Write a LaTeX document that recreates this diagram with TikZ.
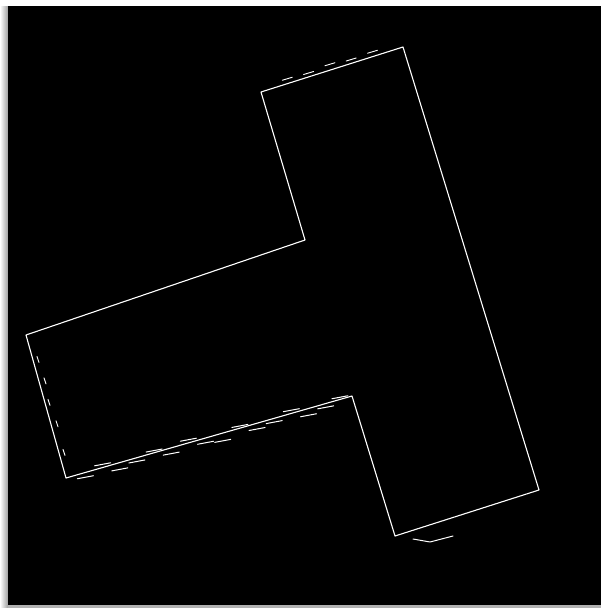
\documentclass[tikz,border=0pt]{standalone}
\usetikzlibrary{calc}
\begin{document}
\begin{tikzpicture}[x=1pt, y=-1pt, line join=round, line cap=round]
	\useasboundingbox (0,0) rectangle (601,608);
	\fill[white] (0,0) rectangle (601,608);
	\shade[left color=white, right color=gray!75] (0,6) rectangle (8,608);
	\fill[black] (8,6) rectangle (601,605);
	\fill[gray!60] (8,605) rectangle (601,608);
	\path
	(261,92) coordinate (A)
	(403,47) coordinate (B)
	(539,490) coordinate (C)
	(395,536) coordinate (D)
	(352,396) coordinate (E)
	(66,478) coordinate (F)
	(26,335) coordinate (G)
	(305,240) coordinate (H)
	(413,539) coordinate (S1)
	(430,542) coordinate (S2)
	(453,536) coordinate (S3)
	;
	% outline
	\draw[white, line width=1.1pt] (A)--(B)--(C)--(D)--(E)--(F)--(G)--(H)--cycle;
	\draw[white, line width=1pt] (S1)--(S2)--(S3);
	% doubled edges
	\foreach \t/\o in {0.04/4,0.1/-4,0.16/6,0.22/3,0.28/-3,0.34/5,0.4/-4,0.46/4,0.52/7,0.58/-3,0.64/5,0.7/3,0.76/-4,0.82/6,0.88/3,0.93/-3}
	\draw[white, line width=1pt] ($(F)!\t!(E)+(0,\o)$) -- ++(16,-3);
	\foreach \t/\o in {0.15/-5,0.3/-4,0.45/-6,0.6/-4,0.75/-5}
	\draw[white, line width=0.9pt] ($(A)!\t!(B)+(0,\o)$) -- ++(10,-3);
	\foreach \t/\o in {0.15/5,0.3/6,0.45/4,0.6/6,0.8/5}
	\draw[white, line width=0.9pt] ($(G)!\t!(F)+(\o,0)$) -- ++(2,6);
\end{tikzpicture}
\end{document}
